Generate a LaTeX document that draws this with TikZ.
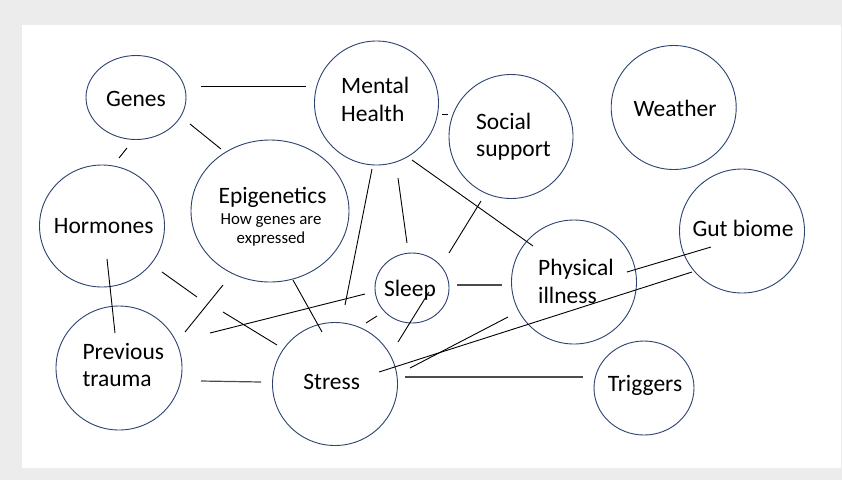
\documentclass[tikz,border=0pt]{standalone}
\usepackage{fontspec}
\setmainfont{Carlito}
\usetikzlibrary{shapes.geometric}
\definecolor{bgray}{RGB}{236,236,236}
\definecolor{ring}{RGB}{44,66,112}
\begin{document}
\begin{tikzpicture}[x=1pt,y=-1pt,
  bub/.style={draw=ring, line width=0.9pt, ellipse, inner sep=0pt},
  lbl/.style={font=\fontsize{23.5}{27.5}\selectfont, inner sep=0pt, align=left},
  sml/.style={font=\fontsize{16.8}{18.7}\selectfont, inner sep=0pt, align=center},
  link/.style={line width=0.9pt, black},
  glink/.style={line width=1.2pt, black!70}]
\fill[bgray] (0,0) rectangle (842,480);
\fill[white] (22,25) rectangle (841,468);
\useasboundingbox (0,0) rectangle (842,480);

% bubbles
\node[bub, minimum width=100pt, minimum height=84pt]  (genes)  at (136,97.5) {};
\node[bub, minimum width=124pt, minimum height=124pt] (mh)     at (376.5,103) {};
\node[bub, minimum width=124pt, minimum height=124pt] (soc)    at (511,136.5) {};
\node[bub, minimum width=125pt, minimum height=124pt] (wea)    at (673.7,107.5) {};
\node[bub, minimum width=125pt, minimum height=122pt] (hor)    at (102,226) {};
\node[bub, minimum width=158pt, minimum height=142pt] (epi)    at (270,211) {};
\node[bub, minimum width=125pt, minimum height=124pt] (gut)    at (742,231) {};
\node[bub, minimum width=125pt, minimum height=124pt] (phy)    at (574,282) {};
\node[bub, minimum width=74pt,  minimum height=70pt]  (sleep)  at (412,288) {};
\node[bub, minimum width=125pt, minimum height=123pt] (stress) at (335,384) {};
\node[bub, minimum width=126pt, minimum height=124pt] (prev)   at (119,368) {};
\node[bub, minimum width=100pt, minimum height=94pt]  (trig)   at (644,388) {};

% labels (for multi-line labels the base anchor is the last line's baseline)
\node[lbl, anchor=base] (genes-t) at (136,106) {Genes};
\node[lbl, anchor=base west] (mh-t) at (341,121) {Mental\\Health};
\node[lbl, anchor=base west] (soc-t) at (476,156.7) {Social\\support};
\node[lbl, anchor=base] (wea-t) at (675,116.7) {Weather};
\node[lbl, anchor=base] (hor-t) at (103.7,233.3) {Hormones};
\node[lbl, anchor=base] (epi-t) at (272.5,203.3) {Epigenetics};
\node[sml, anchor=base] (epi-s) at (271,243) {How genes are\\expressed};
\node[lbl, anchor=base] (gut-t) at (743,236) {Gut biome};
\node[lbl, anchor=base west] (phy-t) at (538,303.3) {Physical\\illness};
\node[lbl, anchor=base west] (prev-t) at (82.3,386.7) {Previous\\trauma};
\node[lbl, anchor=base] (stress-t) at (331.7,389) {Stress};
\node[lbl, anchor=base] (trig-t) at (645,391.7) {Triggers};
\node[lbl, anchor=base] (sleep-t) at (410,296) {Sleep};

% connectors
\draw[link] ([shift={(65,-11.5)}]genes.center) -- ([shift={(-70.5,-17)}]mh.center);
\draw[link] ([shift={(54,26.5)}]genes.center) -- ([shift={(-49,-62)}]epi.center);
\draw[link] ([shift={(-9,50.5)}]genes.center) -- ([shift={(17,-68)}]hor.center);
\draw[link] ([shift={(5,33)}]hor.center) -- ([shift={(-4,-35)}]prev.center);
\draw[link] ([shift={(60,46)}]hor.center) -- ([shift={(-138,-87)}]stress.center);
\draw[link] ([shift={(121,86)}]hor.center) -- ([shift={(-58,-39)}]stress.center);
\draw[link] ([shift={(-47,74)}]epi.center) -- ([shift={(66,-36)}]prev.center);
\draw[link] ([shift={(91,-35)}]prev.center) -- ([shift={(-47,6)}]sleep.center);
\draw[link] ([shift={(23,69)}]epi.center) -- ([shift={(-13,-52)}]stress.center);
\draw[link] ([shift={(-4.5,66)}]mh.center) -- ([shift={(10,-79)}]stress.center);
\draw[link] ([shift={(21.5,75)}]mh.center) -- ([shift={(-5,-45)}]sleep.center);
\draw[link] ([shift={(35.5,57)}]mh.center) -- ([shift={(-41,-36)}]phy.center);
\draw[link] ([shift={(65.5,11)}]mh.center) -- ([shift={(-63,-22.5)}]soc.center);
\draw[link] ([shift={(-30,64.5)}]soc.center) -- ([shift={(37,-35)}]sleep.center);
\draw[glink] ([shift={(45,-3)}]sleep.center) -- ([shift={(-72,3)}]phy.center);
\draw[link] ([shift={(-35,28)}]sleep.center) -- ([shift={(31,-61)}]stress.center);
\draw[link] ([shift={(17,4)}]sleep.center) -- ([shift={(63,-42)}]stress.center);
\draw[link] ([shift={(-66,35)}]phy.center) -- ([shift={(75,-16)}]stress.center);
\draw[link] ([shift={(-50,41)}]gut.center) -- ([shift={(44,-12)}]stress.center);
\draw[link] ([shift={(-31,16)}]gut.center) -- ([shift={(53,-10)}]phy.center);
\draw[glink] ([shift={(70,-7)}]stress.center) -- ([shift={(-61,-11)}]trig.center);
\draw[glink] ([shift={(82,13)}]prev.center) -- ([shift={(-74,-2)}]stress.center);
\end{tikzpicture}
\end{document}
